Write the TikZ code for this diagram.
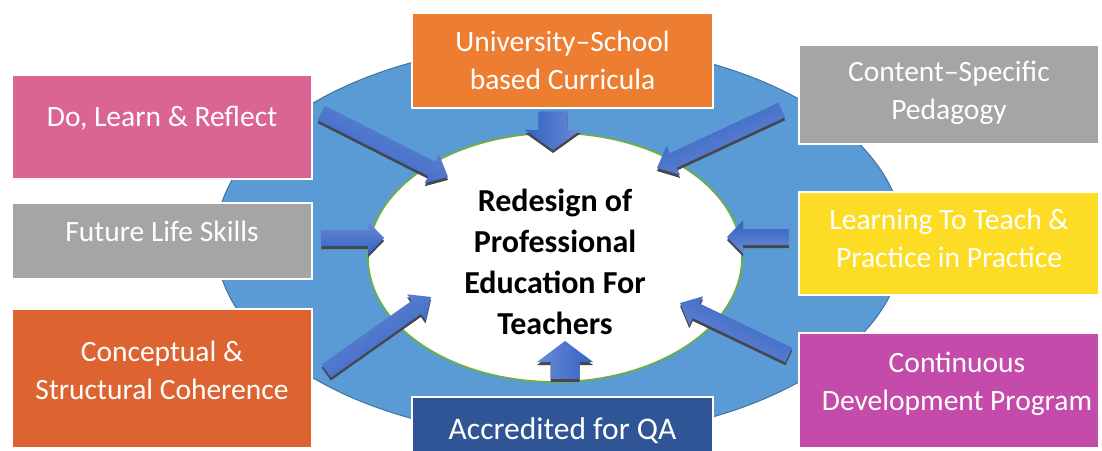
\documentclass[tikz,border=0pt]{standalone}
\usepackage{fontspec}
\setmainfont{Carlito}
\usetikzlibrary{calc,shapes.geometric}
\definecolor{bigblue}{HTML}{5B9BD5}
\definecolor{bigedge}{HTML}{41719C}
\definecolor{coregreen}{HTML}{70AD47}
\definecolor{cOrange}{HTML}{ED7D31}
\definecolor{cPink}{HTML}{DB6592}
\definecolor{cGray}{HTML}{A5A5A5}
\definecolor{cRust}{HTML}{DD6331}
\definecolor{cNavy}{HTML}{2F5597}
\definecolor{cYellow}{HTML}{FDDC26}
\definecolor{cMagenta}{HTML}{C54BAA}
\definecolor{arrowlight}{RGB}{108,138,212}
\definecolor{arrowdark}{RGB}{48,98,196}
\definecolor{arrowshadow}{RGB}{70,70,78}
\newcommand\dn[1]{\rule[-#1]{0pt}{#1}}
\newcommand\blockarrow[5]{%
  \coordinate (#2-hb) at ($(#2)!#5!(#1)$);
  \pgfmathanglebetweenpoints{\pgfpointanchor{#1}{center}}{\pgfpointanchor{#2}{center}}%
  \edef\arrang{\pgfmathresult}%
  \begin{scope}[transform canvas={yshift=-3pt}]
    \fill[arrowshadow] ($(#1)!#3!90:(#2)$) -- ($(#2-hb)!#3!90:(#2)$) -- ($(#2-hb)!#4!90:(#2)$) -- (#2)
      -- ($(#2-hb)!#4!-90:(#2)$) -- ($(#2-hb)!#3!-90:(#2)$) -- ($(#1)!#3!-90:(#2)$) -- cycle;
  \end{scope}
  \shade[left color=arrowlight, right color=arrowdark, shading angle=\arrang]
    ($(#1)!#3!90:(#2)$) -- ($(#2-hb)!#3!90:(#2)$) -- ($(#2-hb)!#4!90:(#2)$) -- (#2)
      -- ($(#2-hb)!#4!-90:(#2)$) -- ($(#2-hb)!#3!-90:(#2)$) -- ($(#1)!#3!-90:(#2)$) -- cycle;
}
\tikzset{
  infobox/.style={draw=white, line width=2.5pt, inner sep=0pt, text=white, align=center,
    font=\fontsize{29.5}{38}\selectfont},
}
\begin{document}
\begin{tikzpicture}[x=1pt, y=-1pt]
\useasboundingbox (0,0) rectangle (1102,450);
\node[ellipse, fill=bigblue, draw=bigedge, line width=1pt, inner sep=0pt,
      minimum width=688pt, minimum height=394pt] (ring) at (559.5,240.5) {};
\node[ellipse, fill=white, draw=coregreen, line width=1.8pt, inner sep=0pt,
      minimum width=374pt, minimum height=249pt, align=center,
      font=\fontsize{32}{41}\selectfont\bfseries] (core) at (555,257.5)
      {\rule{0pt}{32pt}Redesign of\\Professional\\Education For\\Teachers};

\node[infobox, fill=cOrange, minimum width=301pt, minimum height=95pt] (uni) at (562.5,60.5)
  {University–School\\based Curricula};
\node[infobox, fill=cPink, minimum width=300pt, minimum height=104pt] (dlr) at (162,127)
  {Do, Learn \& Reflect\dn{22pt}};
\node[infobox, fill=cGray, minimum width=300pt, minimum height=76pt] (fls) at (162,241)
  {Future Life Skills\dn{19pt}};
\node[infobox, fill=cRust, minimum width=300pt, minimum height=139pt] (csc) at (162,378.5)
  {Conceptual \&\\Structural Coherence\dn{16pt}};
\node[infobox, fill=cNavy, minimum width=301pt, minimum height=55pt,
      font=\fontsize{31.5}{38}\selectfont] (acc) at (562.5,424.5)
  {\rule{0pt}{34pt}Accredited for QA};
\node[infobox, fill=cGray, minimum width=300pt, minimum height=99pt] (csp) at (949,94.5)
  {Content–Specific\\Pedagogy\dn{8pt}};
\node[infobox, fill=cYellow, minimum width=300pt, minimum height=103pt] (ltt) at (949,243.5)
  {Learning To Teach \&\\Practice in Practice\dn{11pt}};
\node[infobox, fill=cMagenta, minimum width=300pt, minimum height=115pt] (cdp) at (949,390.5)
  {\hspace*{16pt}Continuous\\\hspace*{16pt}Development Program\dn{19pt}};

\coordinate (a1t) at ($(dlr.east)+(8,-14)$);
\coordinate (a1h) at ($(core.center)+(-107,-80.5)$);
\coordinate (a2t) at ($(fls.east)+(8,-3)$);
\coordinate (a2h) at ($(core.center)+(-171,-19.5)$);
\coordinate (a3t) at ($(csc.east)+(13,-7.5)$);
\coordinate (a3h) at ($(core.center)+(-124,39.5)$);
\coordinate (a4t) at ($(uni.south)+(-9.5,2)$);
\coordinate (a4h) at ($(core.center)+(-2,-107.5)$);
\coordinate (a5t) at ($(acc.north)+(2.5,-17)$);
\coordinate (a5h) at ($(core.center)+(10,83.5)$);
\coordinate (a6t) at ($(csp.west)+(-16,15.5)$);
\coordinate (a6h) at ($(core.center)+(102,-89.5)$);
\coordinate (a7t) at ($(ltt.west)+(-9,-6.5)$);
\coordinate (a7h) at ($(core.center)+(172,-20.5)$);
\coordinate (a8t) at ($(cdp.west)+(-9,-35.5)$);
\coordinate (a8h) at ($(core.center)+(125,45.5)$);

\blockarrow{a1t}{a1h}{8pt}{16pt}{18pt}
\blockarrow{a2t}{a2h}{8pt}{16.5pt}{16pt}
\blockarrow{a3t}{a3h}{8pt}{16pt}{18pt}
\blockarrow{a4t}{a4h}{14.5pt}{28pt}{20pt}
\blockarrow{a5t}{a5h}{14.5pt}{28pt}{21pt}
\blockarrow{a6t}{a6h}{8pt}{16pt}{18pt}
\blockarrow{a7t}{a7h}{8pt}{16.5pt}{16pt}
\blockarrow{a8t}{a8h}{8pt}{16pt}{18pt}
\end{tikzpicture}
\end{document}
